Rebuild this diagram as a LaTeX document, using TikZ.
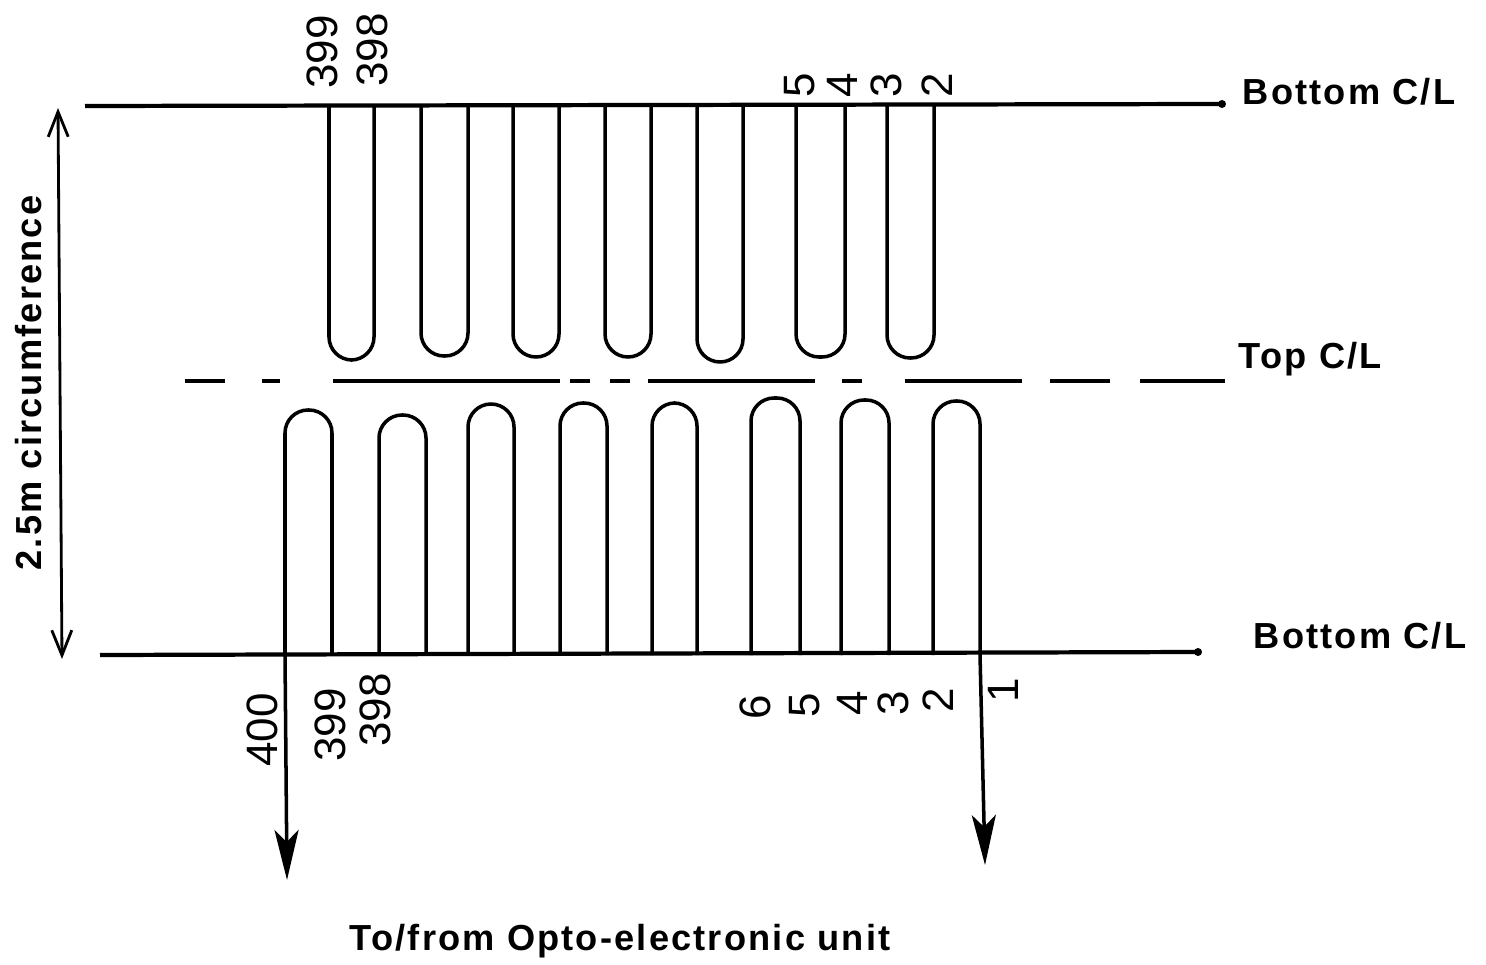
\documentclass[tikz,border=0pt]{standalone}
\usepackage{fontspec}
\setmainfont{Liberation Sans}
\newfontfamily\labfont[LetterSpace=6]{Liberation Sans}
\usepackage{tikz}
\usetikzlibrary{arrows.meta}

\begin{document}
\begin{tikzpicture}[
        x=0.01cm, y=-0.01cm,
        wire/.style={line width=1pt, rounded corners=0.23cm},
        cline/.style={line width=1.2pt},
        lab/.style={font=\labfont\fontsize{10.3}{12}\selectfont\bfseries, inner sep=0pt, anchor=west},
        num/.style={font=\fontsize{12.5}{14}\selectfont, rotate=90, inner sep=0pt},
        lead/.style={line width=1pt, -{Stealth[length=0.5cm, width=0.24cm, inset=0.12cm]}}
    ]
        \useasboundingbox (0,0) rectangle (1486,964);

        % End points of the lines
        \coordinate (topa) at (85,106);
        \coordinate (topb) at (1222,104);
        \coordinate (bota) at (100,655);
        \coordinate (botb) at (1198,652);
        \coordinate (dima) at (58,108);
        \coordinate (dimb) at (62,659);
        \coordinate (outa) at (285,655);
        \coordinate (outb) at (287,880);
        \coordinate (outc) at (980,655);
        \coordinate (outd) at (985,865);

        % Centre lines
        \draw[cline] (topa) -- (topb);
        \fill (topb) circle (4);
        \draw[cline] (bota) -- (botb);
        \fill (botb) circle (4);
        \foreach \a/\b in {185/225, 262/280, 333/560, 570/590, 610/630, 648/815, 842/862, 905/1022, 1050/1110, 1140/1225} {
            \draw[cline] (\a,381) -- (\b,381);
        }

        % Upper loops
        \foreach \a/\b/\d in {329/374/360, 421/468/356, 513/559/357, 605/651/357, 697/743/362, 796/845/357, 887/934/358} {
            \draw[wire] (\a,105) -- (\a,\d) -- (\b,\d) -- (\b,105);
        }
        % Lower loops
        \foreach \a/\b/\d in {285/332/410, 379/426/415, 468/514/404, 560/607/403, 652/697/403, 751/800/398, 841/889/400, 933/980/401} {
            \draw[wire] (\a,655) -- (\a,\d) -- (\b,\d) -- (\b,655);
        }

        % Leads and dimension
        \draw[lead] (outa) -- (outb);
        \draw[lead] (outc) -- (outd);
        \draw[line width=0.8pt, {Straight Barb[length=0.25cm, width=0.2cm]}-{Straight Barb[length=0.25cm, width=0.2cm]}] (dima) -- (dimb);

        % Labels
        \node[lab] (bt) at (1242,92) {Bottom C/L};
        \node[lab] (tp) at (1238,359) {Top C/L};
        \node[lab] (bb) at (1253,636) {Bottom C/L};
        \node[lab, anchor=center, rotate=90] (circ) at (29,383) {2.5m circumference};
        \node[lab, anchor=center] (unit) at (620,941) {To/from Opto-electronic unit};

        % Fibre numbers, top
        \node[num] (t399) at (322,52) {399};
        \node[num] (t398) at (372,50) {398};
        \node[num] (t5) at (800,85) {5};
        \node[num] (t4) at (842,85) {4};
        \node[num] (t3) at (886,85) {3};
        \node[num] (t2) at (937,85) {2};
        % Fibre numbers, bottom
        \node[num] (b400) at (262,730) {400};
        \node[num] (b399) at (330,725) {399};
        \node[num] (b398) at (375,710) {398};
        \node[num] (b6) at (755,707) {6};
        \node[num] (b5) at (805,705) {5};
        \node[num] (b4) at (852,703) {4};
        \node[num] (b3) at (893,703) {3};
        \node[num] (b2) at (938,700) {2};
        \node[num] (b1) at (1003,690) {1};
\end{tikzpicture}
\end{document}
